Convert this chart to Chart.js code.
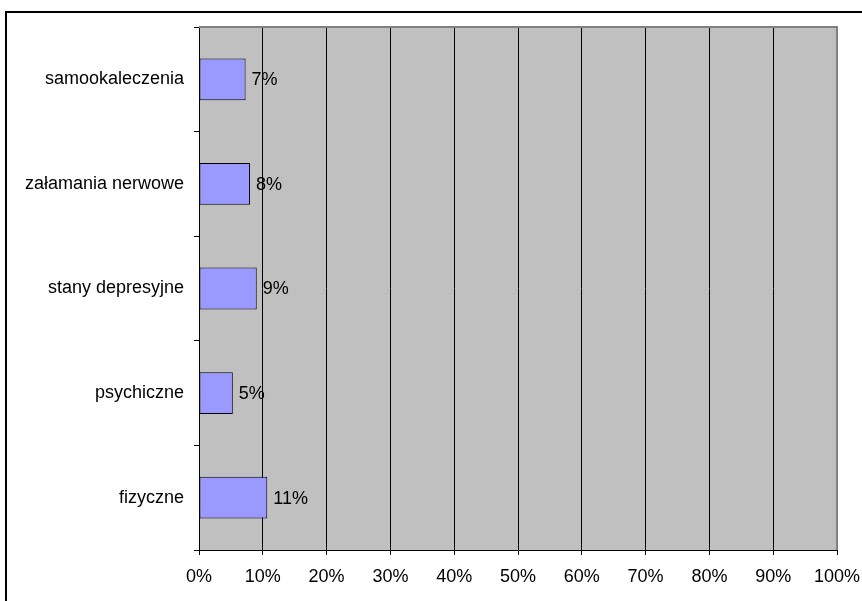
<!DOCTYPE html>
<html>
<head>
<meta charset="utf-8">
<script src="https://cdn.jsdelivr.net/npm/chart.js@4/dist/chart.umd.min.js"></script>
<style>
  html, body { margin: 0; padding: 0; background: #fff; overflow: hidden; }
  canvas { display: block; }
</style>
</head>
<body>
<canvas id="chart" width="862" height="601"></canvas>
<script>
const categories = ['samookaleczenia', 'załamania nerwowe', 'stany depresyjne', 'psychiczne', 'fizyczne'];
const values = [7.3, 8.0, 9.05, 5.3, 10.7];
const valueLabels = ['7%', '8%', '9%', '5%', '11%'];
const xTicks = [0, 10, 20, 30, 40, 50, 60, 70, 80, 90, 100];

Chart.defaults.font.family = '"Liberation Sans", Arial, sans-serif';
Chart.defaults.font.size = 18;
Chart.defaults.color = '#000';

// gray plot area + thin frame round the whole picture
const plotBackground = {
    id: 'plotBackground',
    beforeDraw(chart) {
        const { ctx, chartArea: a } = chart;
        ctx.save();
        ctx.fillStyle = '#C0C0C0';
        ctx.fillRect(a.left, a.top, a.right - a.left, a.bottom - a.top);
        ctx.fillStyle = '#000';
        ctx.fillRect(5, 11, 2, chart.height);
        ctx.fillRect(5, 11, chart.width, 2);
        ctx.restore();
    },
    afterDatasetsDraw(chart) {
        const { ctx, chartArea: a } = chart;
        ctx.save();
        ctx.fillStyle = '#808080';
        ctx.fillRect(a.left, a.top - 1, a.right - a.left + 1, 2);
        ctx.fillRect(a.right - 1, a.top - 1, 2, a.bottom - a.top + 1);
        ctx.restore();
    },
};

const barLabels = {
    id: 'barLabels',
    afterDatasetsDraw(chart) {
        const { ctx } = chart;
        const meta = chart.getDatasetMeta(0);
        ctx.save();
        ctx.font = '18px "Liberation Sans", Arial, sans-serif';
        ctx.fillStyle = '#000';
        ctx.textAlign = 'left';
        ctx.textBaseline = 'middle';
        meta.data.forEach((bar, i) => {
            ctx.fillText(valueLabels[i], bar.x + 6, bar.y + 1);
        });
        ctx.restore();
    },
};

new Chart(document.getElementById('chart'), {
    type: 'bar',
    data: {
        labels: categories,
        datasets: [{
            data: values,
            backgroundColor: '#9999FF',
            borderColor: '#000',
            borderWidth: 1,
            borderSkipped: false,
            barPercentage: 0.4,
            categoryPercentage: 1,
        }],
    },
    options: {
        indexAxis: 'y',
        responsive: false,
        animation: false,
        layout: { padding: { top: 27, right: 25, left: 0, bottom: 0 } },
        plugins: { legend: { display: false }, tooltip: { enabled: false } },
        scales: {
            x: {
                min: 0,
                max: 100,
                afterBuildTicks: (scale) => { scale.ticks = xTicks.map((v) => ({ value: v })); },
                afterFit: (scale) => {
                    scale.height = 51;
                    scale.paddingLeft = 0;
                    scale.paddingRight = 0;
                },
                ticks: { callback: (v) => v + '%', padding: 11, maxRotation: 0, autoSkip: false },
                grid: {
                    color: (c) => (c.tick && c.tick.value === 100 ? '#808080' : '#000'),
                    tickColor: '#000',
                    tickLength: 5,
                    lineWidth: 1,
                },
                border: { color: '#000', width: 1 },
            },
            y: {
                afterFit: (scale) => {
                    scale.width = 199;
                    scale.paddingTop = 0;
                    scale.paddingBottom = 0;
                },
                ticks: { padding: 10 },
                grid: {
                    offset: true,
                    drawOnChartArea: false,
                    color: '#000',
                    tickLength: 5,
                },
                border: { color: '#000', width: 1 },
            },
        },
    },
    plugins: [plotBackground, barLabels],
});
</script>
</body>
</html>
